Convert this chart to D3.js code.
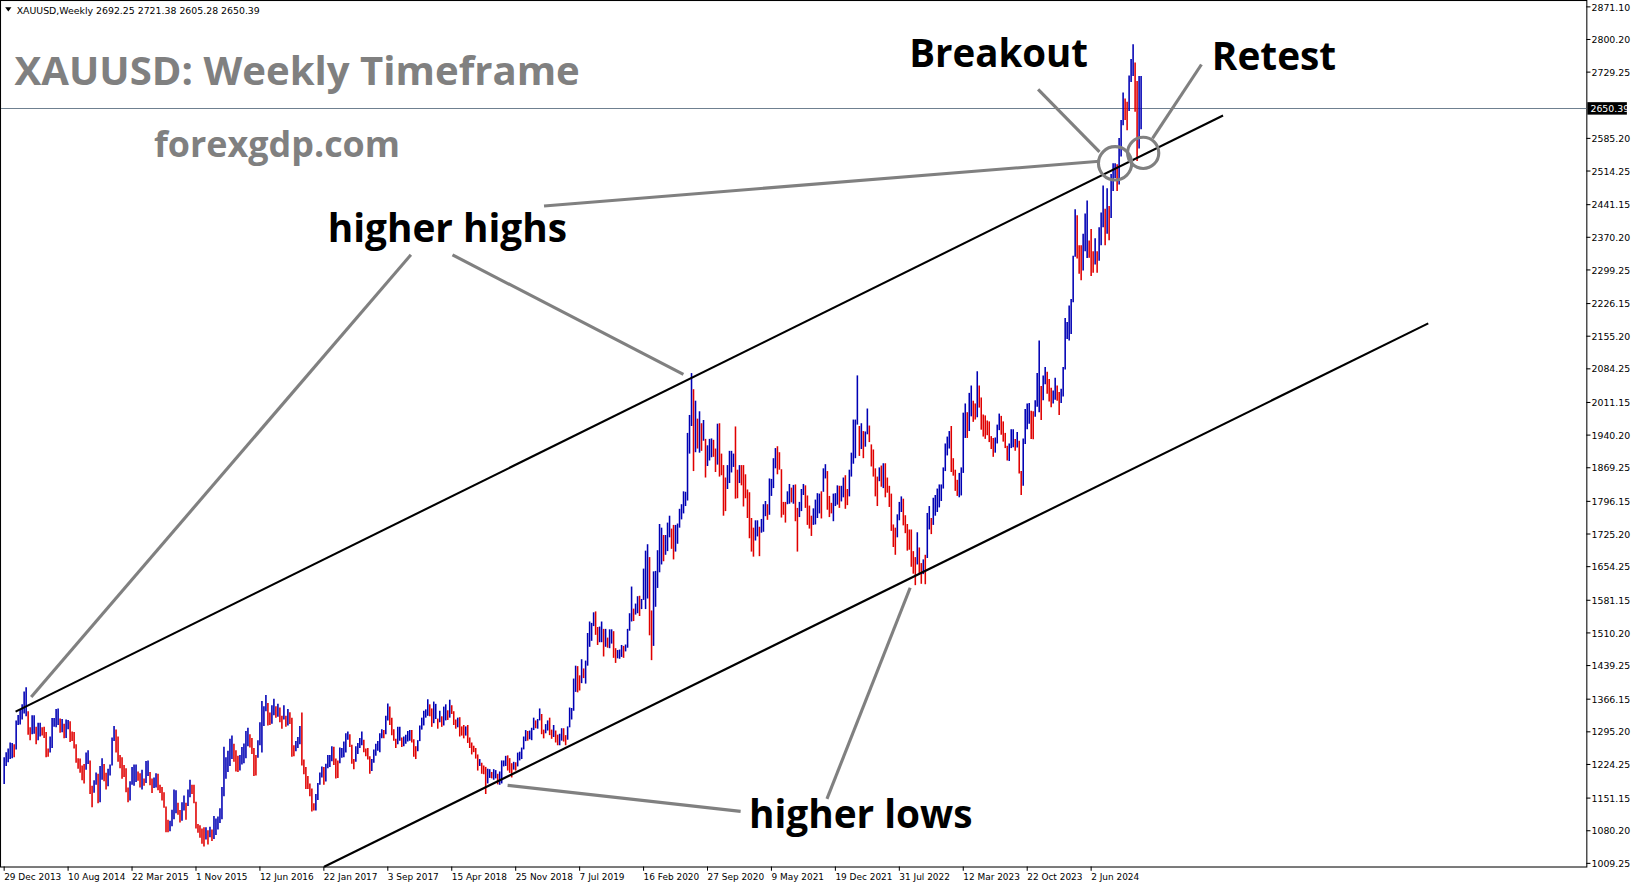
<!DOCTYPE html>
<html><head><meta charset="utf-8">
<script src="https://cdn.jsdelivr.net/npm/d3@7"></script>
<style>body{margin:0;background:#fff}svg{display:block}</style>
</head><body>
<svg id="c" width="1631" height="888"></svg>
<script>
// Weekly bars (low-high), starting week of 29 Dec 2013
const y2014 = "1182-1240 1221-1251 1229-1259 1236-1272 1238-1271 1240-1268 1257-1320 1310-1332 1311-1345 1322-1355 1335-1383 1329-1392 1289-1340 1277-1305 1290-1331 1291-1331 1268-1306 1277-1315 1285-1315 1287-1305 1282-1306 1240-1295 1241-1259 1250-1285 1260-1325 1306-1325 1305-1345 1310-1346 1293-1324 1294-1323 1281-1313 1282-1322 1301-1321 1273-1318 1275-1296 1259-1295 1228-1268 1215-1238 1206-1237 1190-1222 1183-1225 1213-1250 1225-1255 1160-1233 1131-1178 1163-1190 1180-1207 1140-1204 1142-1221 1191-1238 1188-1225 1170-1206 1177-1215";
const y2015 = "1200-1224 1222-1283 1275-1308 1250-1300 1230-1285 1216-1245 1193-1240 1197-1223 1164-1216 1142-1174 1146-1188 1180-1219 1178-1224 1186-1224 1189-1209 1174-1205 1170-1213 1178-1194 1184-1232 1199-1233 1179-1208 1162-1194 1173-1196 1174-1205 1168-1204 1162-1180 1146-1175 1130-1164 1077-1133 1077-1104 1079-1102 1090-1126 1105-1170 1118-1168 1115-1141 1098-1125 1102-1142 1124-1157 1104-1141 1134-1170 1153-1191 1160-1180 1140-1180 1085-1143 1076-1095 1065-1092 1052-1085 1046-1088 1061-1088 1050-1081 1066-1089 1058-1083";
const y2016 = "1062-1112 1071-1107 1083-1111 1097-1129 1105-1175 1155-1263 1193-1240 1208-1254 1221-1280 1236-1287 1230-1269 1209-1255 1208-1243 1211-1245 1224-1262 1227-1270 1238-1297 1264-1304 1261-1290 1247-1282 1199-1260 1200-1245 1239-1277 1266-1316 1250-1362 1308-1351 1340-1375 1309-1358 1310-1337 1313-1353 1331-1367 1326-1351 1328-1356 1316-1348 1302-1330 1322-1353 1306-1330 1309-1345 1312-1338 1241-1326 1242-1266 1253-1275 1260-1284 1268-1308 1222-1337 1203-1235 1171-1219 1171-1199 1155-1183 1122-1172 1124-1140 1124-1160";
const y2017 = "1147-1184 1180-1207 1196-1220 1180-1219 1187-1226 1216-1245 1219-1245 1231-1264 1223-1263 1194-1237 1195-1233 1227-1261 1239-1260 1240-1274 1250-1292 1278-1296 1262-1290 1226-1267 1214-1236 1230-1264 1247-1271 1260-1282 1266-1296 1251-1278 1242-1259 1235-1260 1204-1242 1210-1236 1228-1257 1243-1269 1254-1275 1251-1292 1281-1301 1281-1299 1290-1330 1320-1357 1310-1350 1288-1326 1276-1301 1260-1280 1268-1306 1276-1306 1262-1283 1264-1285 1269-1289 1274-1297 1276-1299 1272-1299 1241-1279 1236-1264 1253-1277 1275-1309";
const y2018 = "1300-1326 1309-1341 1326-1344 1330-1366 1329-1355 1306-1346 1314-1361 1323-1356 1302-1324 1316-1341 1306-1329 1309-1350 1320-1355 1321-1342 1326-1365 1334-1353 1310-1340 1302-1322 1305-1326 1285-1327 1287-1307 1281-1310 1287-1307 1271-1310 1260-1283 1246-1272 1251-1265 1237-1260 1211-1246 1221-1236 1204-1228 1203-1222 1160-1219 1183-1215 1195-1214 1194-1208 1191-1214 1194-1212 1181-1204 1180-1209 1183-1233 1220-1233 1221-1243 1211-1244 1206-1238 1196-1227 1213-1230 1211-1229 1220-1250 1233-1252 1236-1261 1257-1285";
const y2019 = "1275-1299 1276-1297 1279-1298 1277-1304 1299-1326 1303-1320 1302-1323 1320-1346 1290-1334 1281-1300 1292-1312 1298-1320 1288-1326 1280-1300 1284-1310 1272-1298 1266-1289 1266-1291 1276-1303 1274-1303 1266-1288 1278-1307 1305-1348 1322-1347 1341-1411 1382-1439 1381-1438 1385-1418 1401-1453 1412-1433 1400-1450 1439-1510 1480-1535 1493-1532 1525-1555 1506-1557 1484-1523 1490-1524 1490-1535 1459-1519 1480-1519 1478-1500 1477-1518 1487-1518 1456-1514 1445-1477 1455-1473 1454-1474 1458-1484 1456-1482 1470-1485 1478-1519";
const y2020 = "1515-1553 1535-1611 1536-1563 1550-1574 1553-1590 1547-1591 1562-1584 1582-1650 1562-1689 1585-1703 1505-1675 1451-1559 1482-1644 1567-1645 1608-1690 1642-1747 1659-1739 1666-1723 1680-1723 1688-1750 1718-1765 1693-1737 1670-1745 1687-1745 1704-1748 1739-1780 1757-1790 1770-1818 1786-1817 1798-1945 1900-1984 1960-2075 1862-2040 1903-2015 1911-1976 1902-1992 1906-1966 1928-1973 1848-1932 1873-1918 1885-1932 1892-1933 1893-1930 1860-1911 1876-1965 1850-1966 1853-1900 1765-1875 1775-1848 1823-1875 1836-1906 1859-1906 1871-1900";
const y2021 = "1802-1959 1803-1865 1836-1875 1831-1875 1785-1875 1803-1855 1760-1822 1716-1816 1687-1760 1676-1739 1711-1755 1720-1755 1677-1741 1728-1758 1730-1790 1764-1797 1756-1790 1767-1846 1808-1845 1825-1890 1868-1912 1855-1916 1865-1903 1761-1866 1767-1795 1750-1795 1790-1818 1791-1834 1794-1826 1791-1832 1753-1833 1687-1782 1762-1795 1775-1823 1810-1834 1782-1831 1745-1809 1737-1787 1721-1765 1745-1781 1746-1800 1760-1814 1770-1813 1759-1818 1817-1868 1846-1877 1778-1862 1762-1808 1770-1793 1753-1813 1786-1814 1789-1831";
const y2022 = "1782-1830 1796-1830 1805-1848 1780-1853 1788-1823 1807-1865 1850-1902 1878-1974 1890-1974 1963-2070 1895-1960 1910-1966 1890-1949 1915-1948 1942-1998 1925-1961 1872-1920 1850-1909 1807-1868 1786-1850 1840-1870 1828-1874 1825-1879 1805-1879 1815-1848 1784-1830 1732-1813 1697-1746 1680-1739 1718-1768 1755-1795 1773-1807 1744-1802 1727-1766 1689-1747 1691-1735 1654-1735 1639-1688 1614-1675 1659-1729 1640-1696 1617-1662 1638-1670 1616-1680 1673-1771 1735-1786 1725-1760 1745-1804 1765-1810 1773-1824 1783-1833 1797-1833";
const y2023 = "1824-1870 1862-1922 1896-1937 1911-1949 1860-1960 1852-1890 1819-1865 1808-1843 1805-1858 1809-1870 1858-1989 1934-2009 1934-1990 1949-2032 1981-2048 1969-2015 1974-2009 1979-2079 2000-2048 1952-2022 1937-1985 1932-1983 1940-1972 1925-1970 1910-1938 1893-1934 1902-1935 1922-1963 1951-1987 1941-1982 1926-1970 1912-1945 1885-1917 1884-1922 1912-1953 1914-1953 1906-1932 1913-1947 1857-1928 1810-1862 1830-1933 1921-1997 1953-2009 1965-2010 1932-1993 1931-1992 1980-2016 2002-2075 1990-2146 1973-2047 2016-2070 2051-2088";
const y2024 = "2030-2078 2013-2062 2001-2043 2009-2037 2017-2065 2015-2048 1984-2034 2010-2041 2024-2088 2083-2195 2149-2186 2146-2222 2160-2236 2229-2330 2328-2431 2324-2418 2291-2353 2277-2353 2298-2378 2340-2422 2325-2450 2326-2363 2286-2388 2293-2340 2311-2368 2293-2340 2319-2392 2353-2424 2392-2483 2353-2432 2378-2477 2364-2438 2412-2508 2471-2531 2499-2531 2471-2529 2485-2586 2546-2625 2614-2685 2625-2672 2603-2665 2645-2722 2708-2758 2721-2790 2643-2750 2536-2710 2563-2721 2605-2721";

const priceTicks = [2871.10,2800.20,2729.25,2585.20,2514.25,2441.15,2370.20,2299.25,2226.15,2155.20,2084.25,2011.15,1940.20,1869.25,1796.15,1725.20,1654.25,1581.15,1510.20,1439.25,1366.15,1295.20,1224.25,1151.15,1080.20,1009.25];
const dateTicks = ["29 Dec 2013","10 Aug 2014","22 Mar 2015","1 Nov 2015","12 Jun 2016","22 Jan 2017","3 Sep 2017","15 Apr 2018","25 Nov 2018","7 Jul 2019","16 Feb 2020","27 Sep 2020","9 May 2021","19 Dec 2021","31 Jul 2022","12 Mar 2023","22 Oct 2023","2 Jun 2024"];
const lastClose = 2650.39;
// Trend lines [date, price]
const upperChannel = [["2014-02-07",1339],["2025-09-07",2635]];
const lowerChannel = [["2017-01-23",1002],["2027-08-27",2183]];

const parse = d3.timeParse("%Y-%m-%d");
const parseTick = d3.timeParse("%d %b %Y");
const bars = [];
const start = new Date(2013,11,29);
[y2014,y2015,y2016,y2017,y2018,y2019,y2020,y2021,y2022,y2023,y2024].join(" ").split(/\s+/).forEach((s,i)=>{
  const [lo,hi]=s.split("-").map(Number);
  bars.push({date:d3.timeDay.offset(start,7*i),lo,hi});
});
bars.forEach((b,i)=>{const p=i?bars[i-1]:null;b.up=!p||(b.lo+b.hi)>=(p.lo+p.hi);});

const svg = d3.select("#c").append("g").attr("transform","scale(1.0402)");
const W=1525,B=833;
const x = d3.scaleTime().domain([start, bars[bars.length-1].date]).range([4, 1097]);
const y = d3.scaleLinear().domain([1009.25,2871.10]).range([830,6.6]);

svg.append("rect").attr("x",0.5).attr("y",0.5).attr("width",W).attr("height",B).attr("fill","#fff").attr("stroke","#000");

svg.append("line").attr("x1",1).attr("x2",W).attr("y1",y(lastClose)).attr("y2",y(lastClose)).attr("stroke","#6f8090").attr("stroke-width",1);

svg.append("g").selectAll("line").data(bars).join("line")
  .attr("x1",d=>x(d.date)).attr("x2",d=>x(d.date))
  .attr("y1",d=>y(d.hi)).attr("y2",d=>y(d.lo))
  .attr("stroke",d=>d.up?"#0000b4":"#e00000").attr("stroke-width",1.5);

[upperChannel,lowerChannel].forEach(c=>{
  svg.append("line").attr("x1",x(parse(c[0][0]))).attr("y1",y(c[0][1]))
    .attr("x2",x(parse(c[1][0]))).attr("y2",y(c[1][1])).attr("stroke","#000").attr("stroke-width",2);
});

const g=svg.append("g").attr("stroke","#808080").attr("stroke-width",3).attr("fill","none");
[[30,670,395,245],[435,245,657,360],[523,198,1057,155],[998,86,1057,146],[1155,62,1108,133],[488,755,712,780],[875,565,795,768]]
 .forEach(a=>g.append("line").attr("x1",a[0]).attr("y1",a[1]).attr("x2",a[2]).attr("y2",a[3]));
g.append("circle").attr("cx",1072).attr("cy",157).attr("r",16);
g.append("circle").attr("cx",1099).attr("cy",147).attr("r",15);

const T=(t,xx,yy,s,c)=>svg.append("text").text(t).attr("x",xx).attr("y",yy).attr("font-family","Open Sans, sans-serif")
  .attr("font-weight","bold").attr("font-size",s).attr("fill",c);
T("XAUUSD: Weekly Timeframe",14,82,38.6,"#808080");
T("forexgdp.com",148,151,34.5,"#808080");
T("higher highs",315,233,37.3,"#000");
T("higher lows",720,796,37.3,"#000");
T("Breakout",874,64,37,"#000");
T("Retest",1165,67,37.3,"#000");

svg.append("path").attr("d","M5,7 L11,7 L8,11 Z").attr("fill","#000");
svg.append("text").text("XAUUSD,Weekly  2692.25 2721.38 2605.28 2650.39").attr("x",16).attr("y",13)
  .attr("font-family","DejaVu Sans, sans-serif").attr("font-size",9).attr("fill","#000");

const ra=svg.append("g").attr("font-family","DejaVu Sans, sans-serif").attr("font-size",9);
priceTicks.forEach(p=>{
  ra.append("line").attr("x1",W).attr("x2",W+4).attr("y1",y(p)).attr("y2",y(p)).attr("stroke","#000");
  ra.append("text").text(p.toFixed(2)).attr("x",1530).attr("y",y(p)+3.5).attr("fill","#000");
});
const ly=y(lastClose);
ra.append("rect").attr("x",1526).attr("y",ly-6).attr("width",38).attr("height",12).attr("fill","#000");
ra.append("text").text(lastClose.toFixed(2)).attr("x",1529).attr("y",ly+3.5).attr("fill","#fff");

const ba=svg.append("g").attr("font-family","DejaVu Sans, sans-serif").attr("font-size",8.6);
dateTicks.forEach(d=>{
  const xx=x(parseTick(d));
  ba.append("line").attr("x1",xx).attr("x2",xx).attr("y1",B).attr("y2",B+4).attr("stroke","#000");
  ba.append("text").text(d).attr("x",xx).attr("y",846).attr("fill","#000");
});
</script>
</body></html>
